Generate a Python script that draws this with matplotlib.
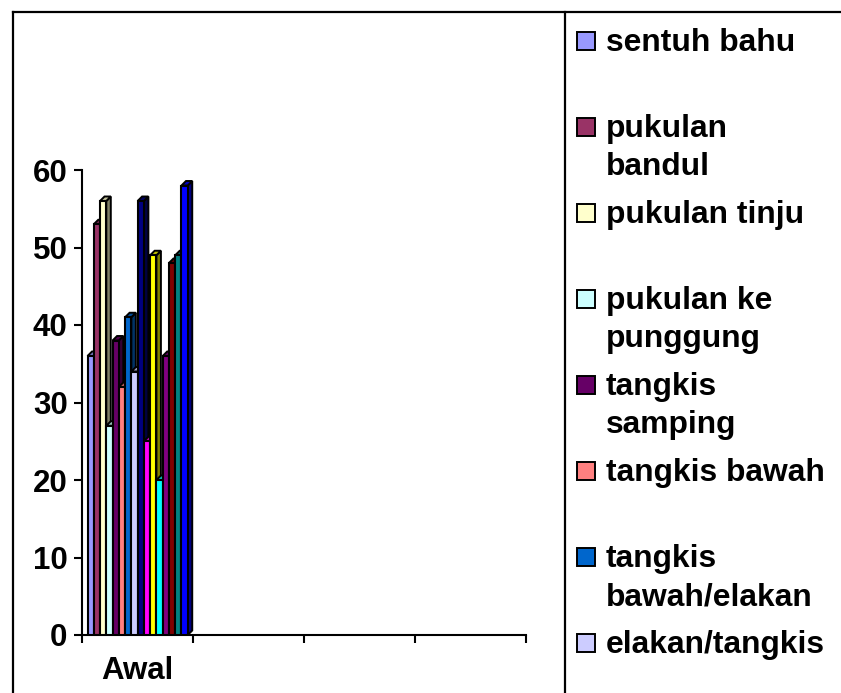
import numpy as np
import matplotlib
matplotlib.use('Agg')
import matplotlib.pyplot as plt
from matplotlib.lines import Line2D
from matplotlib.patches import Rectangle
from matplotlib.colors import to_rgb

categories = ['Awal', '', '', '']
yticks = [0, 10, 20, 30, 40, 50, 60]

# one value per series, only the first category has data
values = [36, 53, 56, 27, 38, 32, 41, 34, 56, 25, 49, 20, 36, 48, 49, 58]
colors = ['#9999FF', '#993366', '#FFFFCC', '#CCFFFF', '#660066', '#FF8080', '#0066CC', '#CCCCFF',
          '#000080', '#FF00FF', '#FFFF00', '#00FFFF', '#800080', '#800000', '#008080', '#0000FF']

legend_labels = ['sentuh bahu', 'pukulan\nbandul', 'pukulan tinju', 'pukulan ke\npunggung',
                 'tangkis\nsamping', 'tangkis bawah', 'tangkis\nbawah/elakan', 'elakan/tangkis']
legend_y = [41, 127, 213, 299, 385, 471, 557, 643]

W, H = 841, 693
plt.rcParams['font.family'] = ['Liberation Sans', 'DejaVu Sans']
plt.rcParams['font.weight'] = 'bold'

def fx(px):
    return px / W

def fy(px):
    return 1 - px / H

def shade(color, f=0.6):
    return tuple(c * f for c in to_rgb(color))

fig = plt.figure(figsize=(W / 100, H / 100), dpi=100)
ax = fig.add_axes([fx(81.5), fy(635), fx(526 - 81.5), (635 - 170) / H])

n = len(values)
width = 0.2255 / 4
start = (87.5 - 81.5) / (526 - 81.5) * 4
dx = 4.5 / (526 - 81.5) * 4
dy = 4.5 / (635 - 170) * 60

for i, (v, c) in enumerate(zip(values, colors)):
    x0 = start + i * width
    x1 = x0 + width
    ax.fill([x1, x1 + dx, x1 + dx, x1], [0, dy, v + dy, v], facecolor=shade(c, 0.5),
            edgecolor='k', linewidth=1.4, zorder=3 + i)
    ax.fill([x0, x0 + dx, x1 + dx, x1], [v, v + dy, v + dy, v], facecolor=shade(c, 0.75),
            edgecolor='k', linewidth=1.4, zorder=3 + i)
    ax.bar(x0, v, width, align='edge', color=c, edgecolor='k', linewidth=1.5, zorder=3 + i)

ax.set_xlim(0, 4)
ax.set_ylim(0, 60)
ax.set_yticks(yticks)
ax.set_xticks(range(5))
ax.set_xticklabels([])
for i, cat in enumerate(categories):
    ax.text(i + 0.5, -0.078, cat, transform=ax.get_xaxis_transform(), ha='center', va='center', fontsize=22.5)
ax.tick_params(axis='y', labelsize=22.5, length=6, width=1.5, pad=4)
ax.tick_params(axis='x', length=6, width=1.5)
ax.spines['top'].set_visible(False)
ax.spines['right'].set_visible(False)
ax.spines['left'].set_linewidth(1.5)
ax.spines['bottom'].set_linewidth(1.5)

# frame around the picture
for xs, ys in [((13, W), (12, 12)), ((13, 13), (12, H)), ((565, 565), (12, H))]:
    fig.add_artist(Line2D([fx(a) for a in xs], [fy(b) for b in ys], color='k', linewidth=1.6))

# legend has uneven rows in the original, so place it by hand
for label, y, c in zip(legend_labels, legend_y, colors):
    fig.add_artist(Rectangle((fx(577), fy(y + 9)), 18 / W, 18 / H, facecolor=c, edgecolor='k',
                             linewidth=1.4, transform=fig.transFigure))
    for k, line in enumerate(label.split('\n')):
        fig.text(fx(606), fy(y + 10 + k * 38), line, ha='left', va='baseline', fontsize=22.9)

fig.savefig('out.png', dpi=100)
